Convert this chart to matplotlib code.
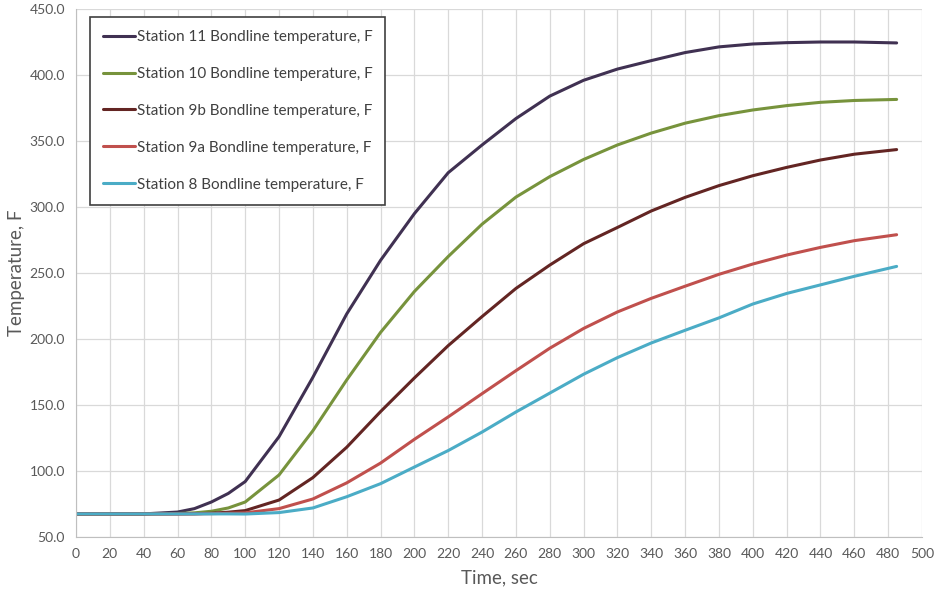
import matplotlib
matplotlib.use('Agg')
import matplotlib.pyplot as plt
from matplotlib.ticker import FormatStrFormatter, MultipleLocator

plt.rcParams['font.family'] = ['Lato', 'DejaVu Sans']

# time points, sec
time = [0, 20, 40, 60, 70, 80, 90, 100, 120, 140, 160, 180, 200, 220, 240,
        260, 280, 300, 320, 340, 360, 380, 400, 420, 440, 460, 485]

st11 = [67.5, 67.5, 67.5, 68.9, 71.5, 76.5, 83.0, 92.0, 126.0, 171.0, 219.0,
        259.6, 295.0, 326.0, 347.0, 367.0, 384.0, 396.0, 404.5, 410.9, 417.0,
        421.3, 423.5, 424.5, 425.0, 425.0, 424.3]
st10 = [67.5, 67.5, 67.5, 67.8, 68.3, 69.5, 72.0, 76.5, 97.0, 130.5, 169.0,
        205.0, 236.0, 262.5, 287.0, 307.5, 323.0, 336.0, 347.0, 356.0, 363.5,
        369.2, 373.5, 376.8, 379.3, 380.7, 381.5]
st9b = [67.5, 67.5, 67.5, 67.5, 67.6, 68.0, 68.8, 70.0, 78.0, 95.0, 118.0,
        145.0, 170.5, 195.0, 217.0, 238.3, 256.0, 272.2, 284.5, 297.0, 307.3,
        316.2, 323.7, 330.0, 335.6, 340.0, 343.5]
st9a = [67.5, 67.5, 67.5, 67.5, 67.5, 67.7, 68.0, 68.3, 71.5, 78.8, 91.0,
        106.0, 124.0, 141.0, 158.6, 176.0, 193.0, 208.0, 220.5, 230.8, 240.0,
        249.0, 256.8, 263.6, 269.4, 274.5, 279.0]
st8 = [67.5, 67.5, 67.5, 67.5, 67.5, 67.5, 67.5, 67.4, 68.5, 72.0, 80.5,
       90.4, 103.0, 115.5, 129.5, 144.7, 159.0, 173.3, 185.9, 197.0, 206.6,
       216.0, 226.5, 234.5, 241.0, 247.5, 255.0]

series = [
    ('Station 11 Bondline temperature, F', st11, '#403152'),
    ('Station 10 Bondline temperature, F', st10, '#77933C'),
    ('Station 9b Bondline temperature, F', st9b, '#632523'),
    ('Station 9a Bondline temperature, F', st9a, '#C0504D'),
    ('Station 8 Bondline temperature, F', st8, '#4BACC6'),
]

fig = plt.figure(figsize=(9.35, 5.93), dpi=100)
ax = fig.add_axes([76 / 935, 1 - 537 / 593, 846 / 935, 528 / 593])

for label, vals, color in series:
    ax.plot(time, vals, color=color, lw=2.2, label=label, solid_capstyle='round')

ax.set_xlim(0, 500)
ax.set_ylim(50, 450)
ax.xaxis.set_major_locator(MultipleLocator(20))
ax.yaxis.set_major_locator(MultipleLocator(50))
ax.yaxis.set_major_formatter(FormatStrFormatter('%.1f'))
ax.grid(True, color='#D9D9D9', lw=0.9)
ax.set_axisbelow(True)
for s in ['top', 'right']:
    ax.spines[s].set_visible(False)
for s in ['left', 'bottom']:
    ax.spines[s].set_color('#BFBFBF')
ax.tick_params(length=0, labelsize=10, labelcolor='#595959', pad=8)

ax.set_xlabel('Time, sec', fontsize=13.5, color='#595959', labelpad=7)
ax.set_ylabel('Temperature, F', fontsize=13.5, color='#595959', labelpad=3)

leg = ax.legend(loc='upper left', bbox_to_anchor=(14 / 846, 1 - 8 / 528),
                fontsize=11, labelspacing=1.5, handlelength=2.1,
                handletextpad=0.1, borderpad=0.85, fancybox=False,
                framealpha=1, edgecolor='#404040', borderaxespad=0)
leg.get_frame().set_linewidth(1.2)
for t in leg.get_texts():
    t.set_color('#404040')

fig.savefig('out.png', dpi=100)
